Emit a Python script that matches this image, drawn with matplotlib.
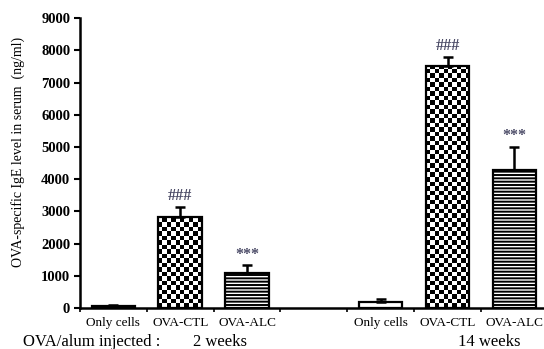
import numpy as np
import matplotlib
matplotlib.use("Agg")
import matplotlib.pyplot as plt

plt.rcParams['font.family'] = ['Liberation Serif', 'DejaVu Serif']
plt.rcParams['hatch.linewidth'] = 1.4

categories = ["Only cells", "OVA-CTL", "OVA-ALC", "", "Only cells", "OVA-CTL", "OVA-ALC"]
values = [60, 2820, 1100, None, 190, 7500, 4280]
errors = [40, 330, 220, None, 80, 300, 720]
patterns = ["dots", "check", "lines", None, "dots", "check", "lines"]
marks = [None, "###", "***", None, None, "###", "***"]
group_labels = ["2 weeks", "14 weeks"]
ylabel = "OVA-specific IgE level in serum  (ng/ml)"
yticks = [0, 1000, 2000, 3000, 4000, 5000, 6000, 7000, 8000, 9000]

fig = plt.figure(figsize=(5.44, 3.49), dpi=100)
ax = fig.add_axes([0.147, 0.1175, 0.86, 0.8305])

x = np.arange(len(categories))
bw = 0.65
hatch_map = {"dots": ".", "lines": "-----", "check": None}
for xi, v, e, p, m in zip(x, values, errors, patterns, marks):
    if v is None:
        continue
    b = ax.bar(xi, v, width=bw, color="white", edgecolor="black", linewidth=1.6,
               hatch=hatch_map[p], zorder=3)[0]
    if p == "check":
        ncol = 10
        cell_h = 140.0
        nrow = int(np.ceil(v / cell_h))
        img = (np.add.outer(np.arange(nrow), np.arange(ncol)) % 2).astype(float)
        im = ax.imshow(img, cmap="gray", vmin=0, vmax=1, interpolation="nearest",
                       extent=(b.get_x(), b.get_x() + b.get_width(), 0, nrow * cell_h),
                       origin="lower", aspect="auto", zorder=2.5)
        im.set_clip_path(b)
        b.set_facecolor("none")
    ax.errorbar(xi, v, yerr=[[0], [e]], fmt="none", ecolor="black", elinewidth=1.8,
                capsize=3.5, capthick=1.8, zorder=4)
    if m:
        ax.text(xi, v + e + 330, m, ha="center", va="center", fontsize=11.5,
                color="#4a4a66", fontweight="bold")

ax.set_xlim(-0.5, len(categories) - 0.5)
ax.set_ylim(0, 9000)
ax.set_yticks(yticks)
ax.set_yticklabels([str(t) for t in yticks], fontsize=10.5, fontweight="bold")
ax.set_xticks(np.arange(-0.5, len(categories) + 0.5, 1.0))
ax.set_xticklabels([])
ax.tick_params(axis="y", direction="out", length=4, width=1.5, pad=3)
ax.tick_params(axis="x", direction="out", length=3, width=1.2)
for xi, c in zip(x, categories):
    ax.text(xi, -280, c, ha="center", va="top", fontsize=9.5, transform=ax.transData,
            clip_on=False)
ax.set_ylabel(ylabel, fontsize=10)
ax.yaxis.set_label_coords(-0.118, 0.54)
ax.spines["top"].set_visible(False)
ax.spines["right"].set_visible(False)
ax.spines["left"].set_linewidth(1.8)
ax.spines["bottom"].set_linewidth(1.8)

fig.text(0.042, -0.004, "OVA/alum injected :", fontsize=12, ha="left", va="bottom")
fig.text(ax.transData.transform((1.6, 0))[0] / fig.bbox.width, -0.004, group_labels[0],
         fontsize=12, ha="center", va="bottom")
fig.text(ax.transData.transform((5.62, 0))[0] / fig.bbox.width, -0.004, group_labels[1],
         fontsize=12, ha="center", va="bottom")

fig.savefig("out.png", dpi=100)
